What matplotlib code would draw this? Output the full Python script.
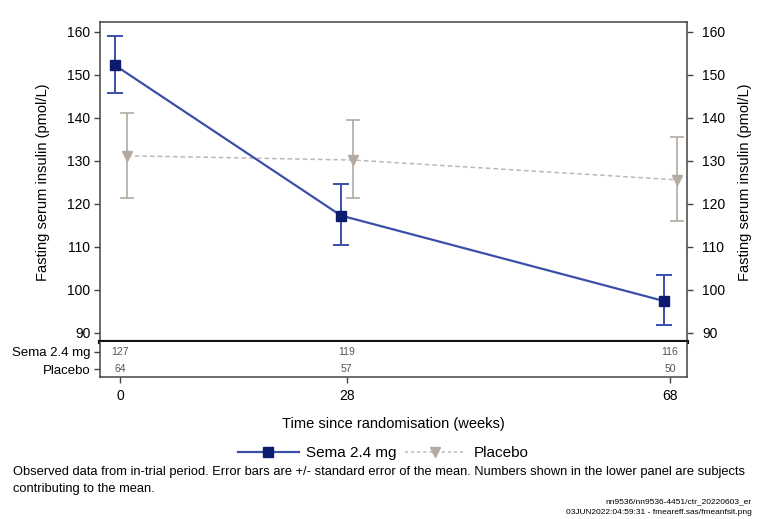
import matplotlib
matplotlib.use("Agg")
import matplotlib.pyplot as plt
from matplotlib.lines import Line2D

plt.rcParams['font.family'] = ['Liberation Sans', 'DejaVu Sans']

# Visit weeks
weeks = [0, 28, 68]
week_labels = ["0", "28", "68"]

# Semaglutide 2.4 mg: mean and +/- SE bounds
sema_mean = [152.3, 117.3, 97.4]
sema_upper = [159.1, 124.6, 103.5]
sema_lower = [145.9, 110.4, 91.9]
sema_n = [127, 119, 116]

# Placebo: mean and +/- SE bounds
plac_mean = [131.2, 130.2, 125.6]
plac_upper = [141.1, 139.6, 135.6]
plac_lower = [121.3, 121.3, 116.0]
plac_n = [64, 57, 50]

y_ticks = [90, 100, 110, 120, 130, 140, 150, 160]
ylabel = "Fasting serum insulin (pmol/L)"

sema_line = "#3b4fa8"
sema_mark = "#0c1a70"
plac_col = "#b3aaa2"
plac_line = "#bdb8b2"

W, H = 760, 519
fig = plt.figure(figsize=(W / 100, H / 100), dpi=100)

def box(l, t, r, b):
    return [l / W, 1 - b / H, (r - l) / W, (b - t) / H]

ax = fig.add_axes(box(100, 22, 687, 342))
axn = fig.add_axes(box(100, 342, 687, 377), sharex=ax)

dx_s, dx_p = -0.7, 0.85
xs = [w + dx_s for w in weeks]
xp = [w + dx_p for w in weeks]

ax.plot(xp, plac_mean, color=plac_line, lw=1.1, ls=(0, (3, 2)), zorder=2)
ax.errorbar(xp, plac_mean,
            yerr=[[m - lo for m, lo in zip(plac_mean, plac_lower)],
                  [hi - m for m, hi in zip(plac_mean, plac_upper)]],
            fmt="v", color=plac_col, ms=6.5, elinewidth=1.2, capsize=5, capthick=1.2,
            zorder=3)
ax.plot(xs, sema_mean, color=sema_line, lw=1.6, zorder=4)
ax.errorbar(xs, sema_mean,
            yerr=[[m - lo for m, lo in zip(sema_mean, sema_lower)],
                  [hi - m for m, hi in zip(sema_mean, sema_upper)]],
            fmt="none", ecolor=sema_line, elinewidth=1.4, capsize=5.5, capthick=1.4,
            zorder=5)
ax.plot(xs, sema_mean, ls="none", marker="s", ms=7, color=sema_mark, zorder=6)

ax.set_xlim(-2.5, 70.1)
ax.set_ylim(87.9, 162.3)
ax.set_yticks(y_ticks)
ax.tick_params(axis="y", labelsize=10, length=4, width=1, color="#444444", pad=3)
ax.tick_params(axis="x", bottom=False, labelbottom=False)
ax.set_ylabel(ylabel, fontsize=10.5, labelpad=12)
for s in ["top", "left", "right"]:
    ax.spines[s].set_color("#444444")
    ax.spines[s].set_linewidth(1.1)
ax.spines["bottom"].set_color("#111111")
ax.spines["bottom"].set_linewidth(3)

axr = ax.twinx()
axr.set_ylim(ax.get_ylim())
axr.set_yticks(y_ticks)
axr.tick_params(axis="y", labelsize=10, length=4, width=1, color="#444444", pad=7)
axr.set_ylabel(ylabel, fontsize=10.5, labelpad=9)
for s in axr.spines.values():
    s.set_visible(False)

# Number-at-risk panel
axn.set_ylim(0, 2)
axn.set_yticks([1.45, 0.45])
axn.set_yticklabels(["Sema 2.4 mg", "Placebo"], fontsize=9.5)
axn.tick_params(axis="y", length=4, width=1, color="#444444", pad=3)
axn.set_xticks(weeks)
axn.set_xticklabels(week_labels, fontsize=10)
axn.tick_params(axis="x", length=4, width=1, color="#444444", pad=5)
for w, n1, n2 in zip(weeks, sema_n, plac_n):
    axn.text(w, 1.45, str(n1), ha="center", va="center", fontsize=7.5, color="#555555")
    axn.text(w, 0.45, str(n2), ha="center", va="center", fontsize=7.5, color="#555555")
axn.spines["top"].set_visible(False)
for s in ["left", "right", "bottom"]:
    axn.spines[s].set_color("#444444")
    axn.spines[s].set_linewidth(1.1)
axn.set_xlabel("Time since randomisation (weeks)", fontsize=10.5, labelpad=10)

handles = [
    Line2D([], [], color=sema_line, lw=1.6, marker="s", ms=7,
           markerfacecolor=sema_mark, markeredgecolor=sema_mark),
    Line2D([], [], color=plac_line, lw=1.1, ls=(0, (2, 2)), marker="v", ms=7,
           markerfacecolor=plac_col, markeredgecolor=plac_col),
]
fig.legend(handles, ["Sema 2.4 mg", "Placebo"], loc="center",
           bbox_to_anchor=(383 / W, 1 - 453 / H), ncol=2, frameon=False,
           fontsize=11, handlelength=4, columnspacing=0.5, handletextpad=0.5)

fig.text(13 / W, 1 - 472 / H,
         "Observed data from in-trial period. Error bars are +/- standard error of the mean. "
         "Numbers shown in the lower panel are subjects",
         fontsize=9.25, va="center", ha="left")
fig.text(13 / W, 1 - 489 / H, "contributing to the mean.",
         fontsize=9.25, va="center", ha="left")
fig.text(752 / W, 1 - 502 / H, "nn9536/nn9536-4451/ctr_20220603_er",
         fontsize=6, va="center", ha="right")
fig.text(752 / W, 1 - 513 / H, "03JUN2022:04:59:31 - fmeareff.sas/fmeanfsit.png",
         fontsize=6, va="center", ha="right")

fig.savefig("out.png", dpi=100)
